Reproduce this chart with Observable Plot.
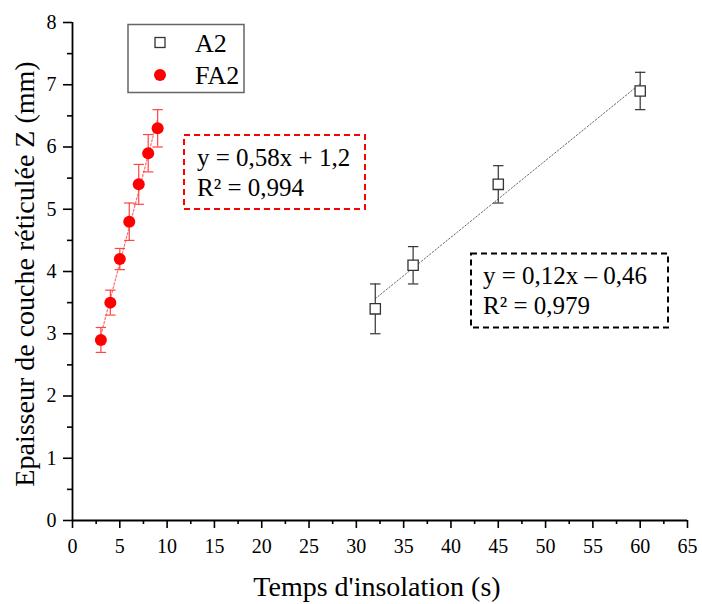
<!DOCTYPE html>
<html><head><meta charset="utf-8">
<script src="https://cdn.jsdelivr.net/npm/d3@7"></script>
<script src="https://cdn.jsdelivr.net/npm/@observablehq/plot@0.6"></script>
<style>
body{margin:0;background:#fff}
#chart{width:702px;height:604px}
#chart svg, #chart svg text{font-family:"Liberation Serif", "Times New Roman", serif !important;}
</style>
</head><body><div id="chart"></div>
<script>
// ---- data ----
const a2X = [32, 36, 45, 60];
const a2Y = [3.4, 4.1, 5.4, 6.9];
const a2Err = [0.4, 0.3, 0.3, 0.3];
const fa2X = [3, 4, 5, 6, 7, 8, 9];
const fa2Y = [2.9, 3.5, 4.2, 4.8, 5.4, 5.9, 6.3];
const fa2Err = [0.2, 0.2, 0.17, 0.3, 0.32, 0.3, 0.3];
const xTicks = [0,5,10,15,20,25,30,35,40,45,50,55,60,65];
const xMinor = [2.5,7.5,12.5,17.5,22.5,27.5,32.5,37.5,42.5,47.5,52.5,57.5,62.5];
const yTicks = [0,1,2,3,4,5,6,7,8];
const yMinor = [0.5,1.5,2.5,3.5,4.5,5.5,6.5,7.5];
const seriesNames = ["A2", "FA2"];
const eqA2 = ["y = 0,12x \u2013 0,46", "R\u00b2 = 0,979"];
const eqFA2 = ["y = 0,58x + 1,2", "R\u00b2 = 0,994"];
const xTitle = "Temps d'insolation (s)";
const yTitle = "Epaisseur de couche réticulée Z (mm)";

const a2 = a2X.map((x, i) => ({x, y: a2Y[i], e: a2Err[i]}));
const fa2 = fa2X.map((x, i) => ({x, y: fa2Y[i], e: fa2Err[i]}));

const capSymbol = {draw(ctx) { ctx.moveTo(-5.2, 0); ctx.lineTo(5.2, 0); }};
const FONT = "Liberation Serif, Times New Roman, serif";

const chart = Plot.plot({
  width: 702, height: 604,
  marginLeft: 72, marginRight: 15, marginTop: 22, marginBottom: 84,
  style: {fontSize: "20px", color: "#000", background: "#fff"},
  x: {domain: [0, 65]},
  y: {domain: [0, 8]},
  marks: [
    Plot.axisX({ticks: xTicks, tickSize: 8, tickPadding: 10, label: null, fontSize: 20, strokeWidth: 1.6, tickFormat: d => d}),
    Plot.axisX({ticks: xMinor, tickSize: 4, tickFormat: () => "", label: null, strokeWidth: 1.6}),
    Plot.axisY({ticks: yTicks, tickSize: 9, tickPadding: 7, label: null, fontSize: 20, strokeWidth: 1.6, tickFormat: d => d}),
    Plot.axisY({ticks: yMinor, tickSize: 5, tickFormat: () => "", label: null, strokeWidth: 1.6}),
    Plot.ruleY([0], {stroke: "#000", strokeWidth: 1.8}),
    Plot.ruleX([0], {stroke: "#000", strokeWidth: 1.8}),
    // regression lines
    Plot.linearRegressionY(a2, {x: "x", y: "y", ci: 0, stroke: "#666", strokeWidth: 1, strokeDasharray: "1.5,2"}),
    Plot.linearRegressionY(fa2, {x: "x", y: "y", ci: 0, stroke: "#f77", strokeWidth: 1.3, strokeDasharray: "2,2"}),
    // error bars A2
    Plot.ruleX(a2, {x: "x", y1: d => d.y - d.e, y2: d => d.y + d.e, stroke: "#333", strokeWidth: 1.2}),
    Plot.dot(a2, {x: "x", y: d => d.y + d.e, symbol: capSymbol, stroke: "#333", strokeWidth: 1.2}),
    Plot.dot(a2, {x: "x", y: d => d.y - d.e, symbol: capSymbol, stroke: "#333", strokeWidth: 1.2}),
    // error bars FA2
    Plot.ruleX(fa2, {x: "x", y1: d => d.y - d.e, y2: d => d.y + d.e, stroke: "#f44", strokeWidth: 1.2}),
    Plot.dot(fa2, {x: "x", y: d => d.y + d.e, symbol: capSymbol, stroke: "#f44", strokeWidth: 1.2}),
    Plot.dot(fa2, {x: "x", y: d => d.y - d.e, symbol: capSymbol, stroke: "#f44", strokeWidth: 1.2}),
    // points
    Plot.dot(a2, {x: "x", y: "y", symbol: "square", r: 5.8, fill: "#fff", stroke: "#333", strokeWidth: 1.3}),
    Plot.dot(fa2, {x: "x", y: "y", r: 6, fill: "#ff0000", stroke: "none"})
  ]
});
document.getElementById("chart").appendChild(chart);

const svg = d3.select(chart);
function txt(parent, x, y, size, s, anchor) {
  return parent.append("text").attr("x", x).attr("y", y)
    .attr("text-anchor", anchor || "start")
    .style("font-family", FONT).style("font-size", size + "px").attr("fill", "#000").text(s);
}
// axis titles
txt(svg, 377, 596, 28, xTitle, "middle");
txt(svg, 0, 0, 28, yTitle, "middle").attr("x", null).attr("y", null)
  .attr("transform", "translate(34,274) rotate(-90)");

// legend
const lg = svg.append("g");
lg.append("rect").attr("x", 128).attr("y", 24.5).attr("width", 116).attr("height", 68)
  .attr("fill", "#fff").attr("stroke", "#666").attr("stroke-width", 1.5);
lg.append("rect").attr("x", 155).attr("y", 37.5).attr("width", 10).attr("height", 10)
  .attr("fill", "#fff").attr("stroke", "#333").attr("stroke-width", 1.3);
lg.append("circle").attr("cx", 160).attr("cy", 75).attr("r", 6).attr("fill", "#ff0000");
txt(lg, 195, 51.5, 26, seriesNames[0]);
txt(lg, 195, 83.5, 26, seriesNames[1]);

// equation boxes
function eqBox(x, y, w, h, color, lines, tx, b1, b2) {
  const g = svg.append("g");
  g.append("rect").attr("x", x).attr("y", y).attr("width", w).attr("height", h)
    .attr("fill", "none").attr("stroke", color).attr("stroke-width", 2).attr("stroke-dasharray", "6,4");
  txt(g, tx, b1, 25, lines[0]);
  txt(g, tx, b2, 25, lines[1]);
}
eqBox(184, 135, 181, 74, "#ff0000", eqFA2, 197, 166, 196);
eqBox(471, 253.5, 197, 74, "#000", eqA2, 483, 283.5, 314);
</script>
</body></html>
